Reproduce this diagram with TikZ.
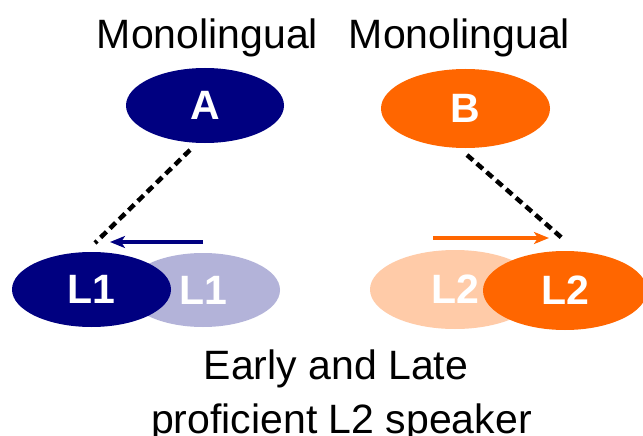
\documentclass[tikz,border=0pt]{standalone}
\usepackage{fontspec}
\setmainfont{Liberation Sans}
\usetikzlibrary{shapes.geometric,arrows.meta}
\definecolor{navy}{RGB}{0,0,128}
\definecolor{navylight}{RGB}{179,179,217}
\definecolor{orng}{RGB}{255,102,0}
\definecolor{ornglight}{RGB}{255,203,168}
\begin{document}
\begin{tikzpicture}[x=1pt,y=-1pt,
  blob/.style={ellipse,inner sep=0pt,text=white,font=\fontsize{41}{41}\selectfont\bfseries},
  caption/.style={anchor=base,font=\fontsize{41}{41}\selectfont},
  link/.style={line width=4.5pt,dash pattern=on 8pt off 5pt,black},
  shiftarrow/.style={line width=3.5pt,-{Stealth[length=15pt,width=12pt,inset=4pt]}}]
\useasboundingbox (0,0) rectangle (643,436);
\fill[white] (0,0) rectangle (643,436);

% headings
\node[caption] (h1) at (207.5,49) {Monolingual};
\node[caption] (h2) at (459.5,49) {Monolingual};

% monolingual speakers
\node[blob,fill=navy,minimum width=158pt,minimum height=75pt] (A) at (205,105.5) {A};
\node[blob,fill=orng,minimum width=169pt,minimum height=79pt] (B) at (465.5,108.5) {B};

% L1 pair (faded copy behind)
\node[blob,fill=navylight,minimum width=154pt,minimum height=74pt] (L1b) at (203,290) {L1};
\node[blob,fill=navy,minimum width=159pt,minimum height=75pt] (L1a) at (91.5,289.5) {L1};

% L2 pair (faded copy behind)
\node[blob,fill=ornglight,minimum width=170pt,minimum height=79pt] (L2b) at (455,289.5) {L2};
\node[blob,fill=orng,minimum width=164pt,minimum height=79pt] (L2a) at (565,290.5) {L2};

% dashed links
\coordinate (a1) at (190,150);
\coordinate (a2) at (95,243);
\coordinate (b1) at (467,155);
\coordinate (b2) at (562,238);
\draw[link] (a1) -- (a2);
\draw[link] (b1) -- (b2);

% shift arrows
\coordinate (s1) at (203,242);
\coordinate (s2) at (110,242);
\coordinate (t1) at (433,238);
\coordinate (t2) at (549,238);
\draw[shiftarrow,navy] (s1) -- (s2);
\draw[shiftarrow,orng] (t1) -- (t2);

% caption
\node[caption] (c1) at (336,379) {Early and Late};
\node[caption] (c2) at (341.5,433) {proficient L2 speaker};
\end{tikzpicture}
\end{document}
